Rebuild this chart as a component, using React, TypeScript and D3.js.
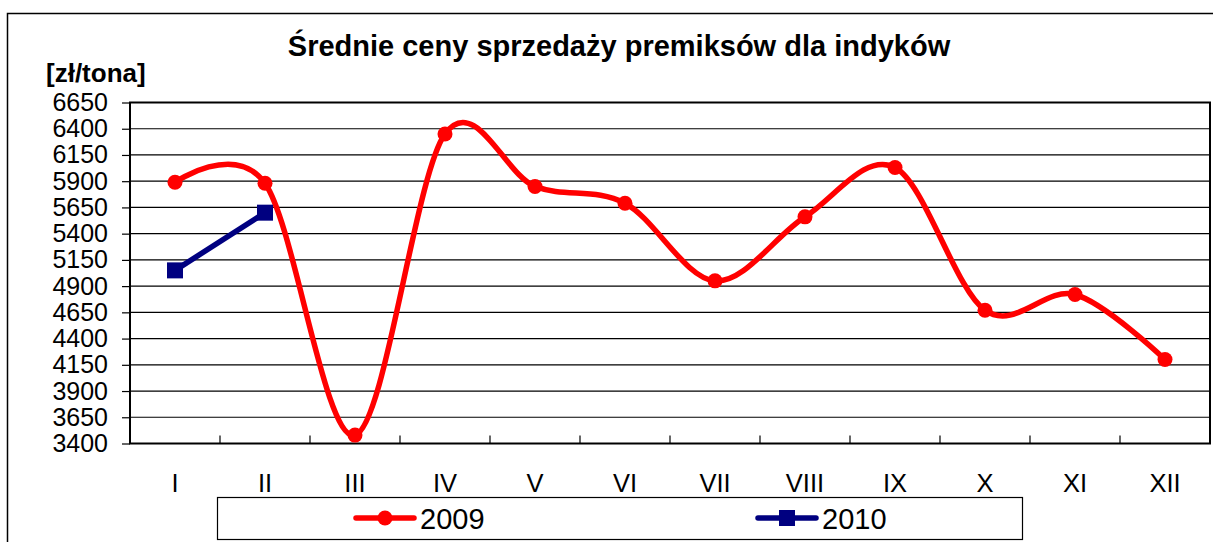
import React, { useRef, useEffect } from 'react';
import * as d3 from 'd3';

const months = ['I', 'II', 'III', 'IV', 'V', 'VI', 'VII', 'VIII', 'IX', 'X', 'XI', 'XII'];
const prices2009 = [5890, 5880, 3480, 6350, 5850, 5690, 4950, 5560, 6030, 4670, 4820, 4200];
const prices2010 = [5050, 5600];
const yTicks = [3400, 3650, 3900, 4150, 4400, 4650, 4900, 5150, 5400, 5650, 5900, 6150, 6400, 6650];

const W = 1213;
const H = 542;
const FONT = '"Liberation Sans", Arial, sans-serif';

const App = () => {
  const ref = useRef<HTMLDivElement>(null);

  useEffect(() => {
    if (!ref.current) return;
    document.body.style.margin = '0';
    d3.select(ref.current).select('svg').remove();

    const svg = d3.select(ref.current)
      .append('svg')
      .attr('width', W)
      .attr('height', H)
      .style('display', 'block')
      .style('background', '#fff')
      .style('font-family', FONT);

    const left = 130, right = 1210, top = 102.5, bottom = 443.5;

    const x = d3.scaleBand().domain(months).range([left, right]);
    const cx = (m: string) => (x(m) as number) + x.bandwidth() / 2;
    const y = d3.scaleLinear().domain([3400, 6650]).range([bottom, top]);

    // outer frame
    svg.append('rect')
      .attr('x', 7.5).attr('y', 13.5)
      .attr('width', 1225).attr('height', 540)
      .attr('fill', 'none').attr('stroke', '#000').attr('stroke-width', 1.5);

    svg.append('text')
      .attr('x', 619).attr('y', 56)
      .attr('text-anchor', 'middle')
      .attr('font-size', 29).attr('font-weight', 'bold')
      .text('Średnie ceny sprzedaży premiksów dla indyków');

    svg.append('text')
      .attr('x', 46).attr('y', 82)
      .attr('font-size', 26).attr('font-weight', 'bold')
      .text('[zł/tona]');

    // gridlines
    svg.append('g')
      .selectAll('line')
      .data(yTicks)
      .enter()
      .append('line')
      .attr('x1', left).attr('x2', right)
      .attr('y1', d => y(d)).attr('y2', d => y(d))
      .attr('stroke', '#000').attr('stroke-width', 1.2);

    // y axis
    const yAxis = svg.append('g')
      .attr('transform', `translate(${left},0)`)
      .call(d3.axisLeft(y).tickValues(yTicks).tickSize(8).tickPadding(14).tickFormat(d3.format('d')));
    yAxis.select('.domain').remove();
    yAxis.selectAll('line').attr('stroke', '#000').attr('stroke-width', 1.2);
    yAxis.selectAll('text')
      .attr('font-size', 25).attr('font-family', FONT).attr('fill', '#000');

    // x ticks inside, at category boundaries
    svg.append('g')
      .selectAll('line')
      .data(months.slice(1))
      .enter()
      .append('line')
      .attr('x1', d => x(d) as number).attr('x2', d => x(d) as number)
      .attr('y1', bottom).attr('y2', bottom - 8)
      .attr('stroke', '#000').attr('stroke-width', 1.2);

    svg.append('g')
      .selectAll('text')
      .data(months)
      .enter()
      .append('text')
      .attr('x', d => cx(d)).attr('y', 492)
      .attr('text-anchor', 'middle')
      .attr('font-size', 25.5)
      .text(d => d);

    // plot frame
    svg.append('rect')
      .attr('x', left).attr('y', top)
      .attr('width', right - left).attr('height', bottom - top)
      .attr('fill', 'none').attr('stroke', '#000').attr('stroke-width', 2);

    // 2009 smoothed
    const smooth = d3.line<number>()
      .x((_, i) => cx(months[i]))
      .y(d => y(d))
      .curve(d3.curveCatmullRom.alpha(0));

    svg.append('path')
      .datum(prices2009)
      .attr('d', smooth)
      .attr('fill', 'none').attr('stroke', '#ff0000').attr('stroke-width', 5.5)
      .attr('stroke-linejoin', 'round');

    svg.append('g')
      .selectAll('circle')
      .data(prices2009)
      .enter()
      .append('circle')
      .attr('cx', (_, i) => cx(months[i]))
      .attr('cy', d => y(d))
      .attr('r', 7.5)
      .attr('fill', '#ff0000');

    // 2010 straight
    const straight = d3.line<number>()
      .x((_, i) => cx(months[i]))
      .y(d => y(d));

    svg.append('path')
      .datum(prices2010)
      .attr('d', straight)
      .attr('fill', 'none').attr('stroke', '#000080').attr('stroke-width', 5.5);

    svg.append('g')
      .selectAll('rect')
      .data(prices2010)
      .enter()
      .append('rect')
      .attr('x', (_, i) => cx(months[i]) - 8)
      .attr('y', d => y(d) - 8)
      .attr('width', 16).attr('height', 16)
      .attr('fill', '#000080');

    // legend
    const lg = svg.append('g');
    lg.append('rect')
      .attr('x', 217.5).attr('y', 497.5)
      .attr('width', 805).attr('height', 42)
      .attr('fill', '#fff').attr('stroke', '#000').attr('stroke-width', 1.2);

    const ly = 518;
    lg.append('line')
      .attr('x1', 356).attr('x2', 414).attr('y1', ly).attr('y2', ly)
      .attr('stroke', '#ff0000').attr('stroke-width', 5.5).attr('stroke-linecap', 'round');
    lg.append('circle').attr('cx', 385).attr('cy', ly).attr('r', 7.5).attr('fill', '#ff0000');
    lg.append('text').attr('x', 420).attr('y', ly + 11).attr('font-size', 29).text('2009');

    lg.append('line')
      .attr('x1', 758).attr('x2', 816).attr('y1', ly).attr('y2', ly)
      .attr('stroke', '#000080').attr('stroke-width', 5.5).attr('stroke-linecap', 'round');
    lg.append('rect').attr('x', 779).attr('y', ly - 8).attr('width', 16).attr('height', 16).attr('fill', '#000080');
    lg.append('text').attr('x', 822).attr('y', ly + 11).attr('font-size', 29).text('2010');
  }, []);

  return <div ref={ref}></div>;
};

export default App;
